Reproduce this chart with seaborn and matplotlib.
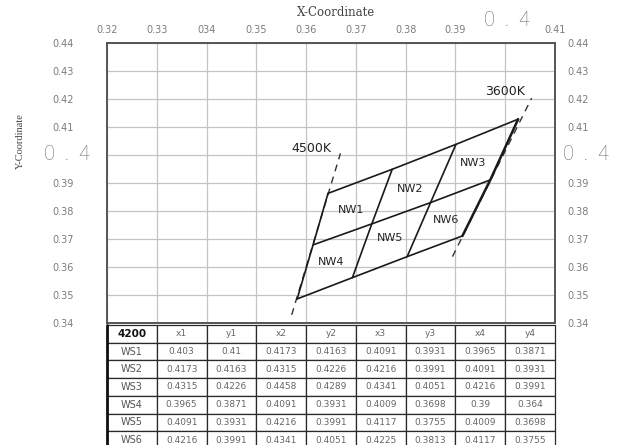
import matplotlib
matplotlib.use("Agg")
import matplotlib.pyplot as plt
import seaborn as sns
import pandas as pd

# ---- data ----
x_ticks = [0.32, 0.33, 0.34, 0.35, 0.36, 0.37, 0.38, 0.39, 0.40, 0.41]
x_tick_labels = ["0.32", "0.33", "034", "0.35", "0.36", "0.37", "0.38", "0.39", "", "0.41"]
y_ticks = [0.34, 0.35, 0.36, 0.37, 0.38, 0.39, 0.40, 0.41, 0.42, 0.43, 0.44]
y_tick_labels = ["0.34", "0.35", "0.36", "0.37", "0.38", "0.39", "", "0.41", "0.42", "0.43", "0.44"]
big_label = "0  .  4"

# node rows of the NW grid (top, middle, bottom), left -> right
top_x = [0.3644, 0.3773, 0.3901, 0.4026]
top_y = [0.3863, 0.3949, 0.4038, 0.4128]
mid_x = [0.3614, 0.3732, 0.3850, 0.3970]
mid_y = [0.3679, 0.3754, 0.3830, 0.3911]
bot_x = [0.3582, 0.3693, 0.3803, 0.3914]
bot_y = [0.3486, 0.3562, 0.3637, 0.3711]

# dashed CCT lines (end points)
cct_names = ["4500K", "3600K"]
cct_x = [[0.3571, 0.3669], [0.3894, 0.4053]]
cct_y = [[0.3429, 0.4006], [0.3637, 0.4203]]
cct_label_x = [0.3610, 0.3999]
cct_label_y = [0.4025, 0.4226]

nw_names = ["NW1", "NW2", "NW3", "NW4", "NW5", "NW6"]
nw_x = [0.3691, 0.3808, 0.3936, 0.3651, 0.3768, 0.3882]
nw_y = [0.3804, 0.3877, 0.3970, 0.3617, 0.3702, 0.3768]

table_header = ["4200", "x1", "y1", "x2", "y2", "x3", "y3", "x4", "y4"]
table_rows = ["WS1", "WS2", "WS3", "WS4", "WS5", "WS6"]
x1 = ["0.403", "0.4173", "0.4315", "0.3965", "0.4091", "0.4216"]
y1 = ["0.41", "0.4163", "0.4226", "0.3871", "0.3931", "0.3991"]
x2 = ["0.4173", "0.4315", "0.4458", "0.4091", "0.4216", "0.4341"]
y2 = ["0.4163", "0.4226", "0.4289", "0.3931", "0.3991", "0.4051"]
x3 = ["0.4091", "0.4216", "0.4341", "0.4009", "0.4117", "0.4225"]
y3 = ["0.3931", "0.3991", "0.4051", "0.3698", "0.3755", "0.3813"]
x4 = ["0.3965", "0.4091", "0.4216", "0.39", "0.4009", "0.4117"]
y4 = ["0.3871", "0.3931", "0.3991", "0.364", "0.3698", "0.3755"]

# ---- plot ----
sns.set_theme(style="white")
plt.rcParams["font.family"] = ["DejaVu Sans"]

fig = plt.figure(figsize=(6.22, 4.45), dpi=100)
ax = fig.add_axes([107/622, 1-323/445, 448/622, 280/445])

ax.set_xlim(0.32, 0.41)
ax.set_ylim(0.34, 0.44)

tick_col = "#7c7c7c"
ax.xaxis.tick_top()
ax.set_xticks(x_ticks)
ax.set_xticklabels(x_tick_labels, fontsize=7, color=tick_col)
ax.set_yticks(y_ticks)
ax.set_yticklabels(y_tick_labels, fontsize=7, color=tick_col)
ax.tick_params(axis="x", length=0, pad=6)
ax.tick_params(axis="y", length=0, pad=24)
ax.grid(True, color="#c4c4c4", lw=0.9)
for s in ax.spines.values():
    s.set_color("#555555")
    s.set_linewidth(1.4)

ax2 = ax.twinx()
ax2.set_ylim(0.34, 0.44)
ax2.set_yticks(y_ticks)
ax2.set_yticklabels(y_tick_labels, fontsize=7, color=tick_col)
ax2.tick_params(axis="y", length=0, pad=9)
ax2.grid(False)
for s in ax2.spines.values():
    s.set_visible(False)

big = dict(fontsize=14.5, color="#6e6e6e", fontweight="light",
           family=["Roboto", "DejaVu Sans"], clip_on=False)
ax.text(0.4003, 0.44 + 22/28*0.01, big_label, ha="center", va="center", **big)
ax.text(0.32 - 0.00345, 0.40, big_label, ha="right", va="center", **big)
ax.text(0.41 + 0.0016, 0.40, big_label, ha="left", va="center", **big)

fig.text(336/622, 1-13/445, "X-Coordinate", ha="center", va="center",
         fontsize=8.5, color="#444444", family="DejaVu Serif")
fig.text(20/622, 1-141/445, "Y-Coordinate", ha="center", va="center", rotation=90,
         fontsize=7.5, color="#444444", family="Liberation Serif")

# dashed CCT lines
for xs, ys in zip(cct_x, cct_y):
    sns.lineplot(x=xs, y=ys, ax=ax, sort=False, color="#333333", lw=1.0,
                 linestyle=(0, (5, 4)), estimator=None)

# grid of NW bins
rows_x = [top_x, mid_x, bot_x]
rows_y = [top_y, mid_y, bot_y]
for xs, ys in zip(rows_x, rows_y):
    sns.lineplot(x=xs, y=ys, ax=ax, sort=False, color="#1a1a1a", lw=1.2, estimator=None)
for i in range(4):
    xs = [top_x[i], mid_x[i], bot_x[i]]
    ys = [top_y[i], mid_y[i], bot_y[i]]
    sns.lineplot(x=xs, y=ys, ax=ax, sort=False, color="#1a1a1a",
                 lw=1.2 if i < 3 else 1.8, estimator=None)

for n, x, y in zip(cct_names, cct_label_x, cct_label_y):
    ax.text(x, y, n, ha="center", va="center", fontsize=9, color="#222222")
for n, x, y in zip(nw_names, nw_x, nw_y):
    ax.text(x, y, n, ha="center", va="center", fontsize=8, color="#222222")

ax.set_xlabel("")
ax.set_ylabel("")
ax2.set_ylabel("")

# table
data_df = pd.DataFrame({"x1": x1, "y1": y1, "x2": x2, "y2": y2,
                        "x3": x3, "y3": y3, "x4": x4, "y4": y4}, index=table_rows)
cell_text = [table_header] + [[r] + list(data_df.loc[r]) for r in table_rows]
row_h = 17.7 / 280
top_off = -2 / 280
n_rows = len(cell_text)
tbl = ax.table(cellText=cell_text, cellLoc="center",
               bbox=[0, top_off - n_rows*row_h, 1, n_rows*row_h])
tbl.auto_set_font_size(False)
for (r, c), cell in tbl.get_celld().items():
    cell.set_edgecolor("#2a2a2a")
    cell.set_linewidth(0.9)
    txt = cell.get_text()
    if r == 0 and c == 0:
        txt.set_fontsize(7.5)
        txt.set_fontweight("bold")
        txt.set_color("#111111")
    elif c == 0:
        txt.set_fontsize(7)
        txt.set_color("#555555")
    else:
        txt.set_fontsize(6.5)
        txt.set_color("#666666")
ax.plot([0, 0], [top_off - n_rows*row_h, top_off], transform=ax.transAxes,
        clip_on=False, color="#111111", lw=2)

fig.savefig("out.png", dpi=100, facecolor="white")
